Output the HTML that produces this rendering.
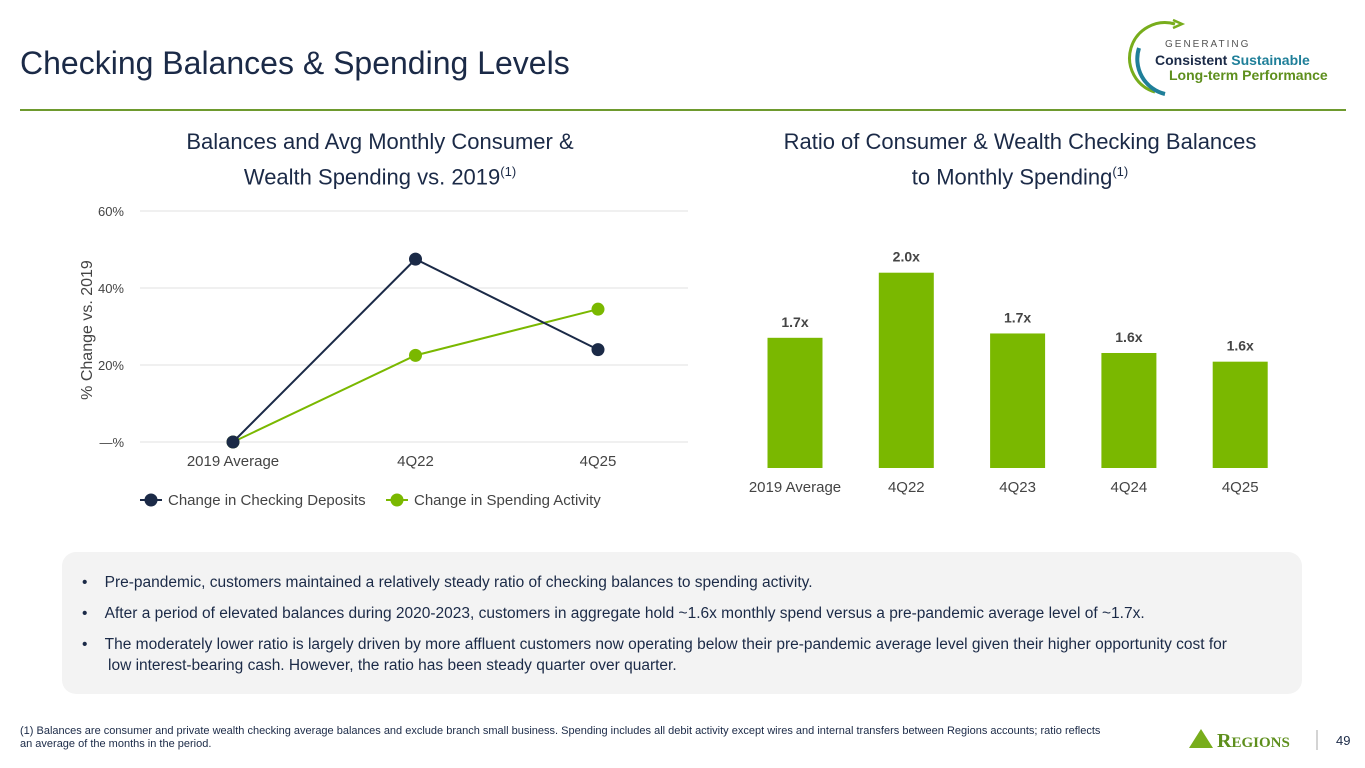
<!DOCTYPE html>
<html><head><meta charset="utf-8"><style>
body{margin:0;width:1365px;height:768px;background:#fff;font-family:"Liberation Sans",sans-serif;position:relative;overflow:hidden;color:#1b2a47}
.abs{position:absolute}
</style></head><body>
<div class="abs" style="left:20px;top:45px;font-size:32px;color:#1b2a47">Checking Balances &amp; Spending Levels</div>
<div class="abs" style="left:20px;top:109px;width:1326px;height:2px;background:#6e9a2e"></div>
<svg class="abs" style="left:1125px;top:18px" width="235" height="80">
<path d="M50 6 A34 34 0 0 0 30 74" fill="none" stroke="#78ad1c" stroke-width="3"/>
<path d="M14 30 A36 36 0 0 0 40 76" fill="none" stroke="#1f7f99" stroke-width="4"/>
<path d="M48 2 L57 6 L48 10" fill="none" stroke="#78ad1c" stroke-width="2.5"/>
<text x="40" y="29" font-size="10" fill="#555" letter-spacing="2">GENERATING</text>
<text x="30" y="47" font-size="14" font-weight="bold" fill="#1b2a47">Consistent <tspan fill="#1f7f99">Sustainable</tspan></text>
<text x="44" y="62" font-size="14" font-weight="bold" fill="#5e8f1d">Long-term Performance</text>
</svg>
<div class="abs" style="left:140px;top:127px;width:480px;text-align:center;font-size:22px;line-height:30px;color:#1b2a47">Balances and Avg Monthly Consumer &amp;<br>Wealth Spending vs. 2019<sup style="font-size:13px">(1)</sup></div>
<div class="abs" style="left:730px;top:127px;width:580px;text-align:center;font-size:22px;line-height:30px;color:#1b2a47">Ratio of Consumer &amp; Wealth Checking Balances<br>to Monthly Spending<sup style="font-size:13px">(1)</sup></div>
<svg class="abs" id="lc" style="left:0;top:190px" width="700" height="330"></svg>
<svg class="abs" id="bc" style="left:700px;top:230px" width="640" height="280"></svg>
<div class="abs" style="left:62px;top:552px;width:1240px;height:142px;background:#f3f3f3;border-radius:14px;font-size:15.5px;color:#1b2a47">
<div style="position:absolute;left:20px;top:20px;width:1200px;line-height:21px">
<div style="padding-left:26px;text-indent:-26px;margin-bottom:10px">•&nbsp;&nbsp;&nbsp;&nbsp;Pre-pandemic, customers maintained a relatively steady ratio of checking balances to spending activity.</div>
<div style="padding-left:26px;text-indent:-26px;margin-bottom:10px">•&nbsp;&nbsp;&nbsp;&nbsp;After a period of elevated balances during 2020-2023, customers in aggregate hold ~1.6x monthly spend versus a pre-pandemic average level of ~1.7x.</div>
<div style="padding-left:26px;text-indent:-26px">•&nbsp;&nbsp;&nbsp;&nbsp;The moderately lower ratio is largely driven by more affluent customers now operating below their pre-pandemic average level given their higher opportunity cost for<br>low interest-bearing cash. However, the ratio has been steady quarter over quarter.</div>
</div></div>
<div class="abs" style="left:20px;top:725px;width:1140px;font-size:11px;line-height:13px;color:#1b2a47">(1) Balances are consumer and private wealth checking average balances and exclude branch small business. Spending includes all debit activity except wires and internal transfers between Regions accounts; ratio reflects<br>an average of the months in the period.</div>
<svg class="abs" style="left:1185px;top:726px" width="180" height="28">
<polygon points="4,22 16,3 28,22" fill="#78ad1c"/>
<text x="32" y="21" font-family="Liberation Serif" font-size="20" font-weight="bold" fill="#5e8f1d">R<tspan font-size="15">EGIONS</tspan></text>
<line x1="132" y1="4" x2="132" y2="24" stroke="#aaa"/>
<text x="151" y="19" font-size="13" fill="#1b2a47">49</text>
</svg>
<script>
const lineCats=["2019 Average","4Q22","4Q25"];
const deposits=[0,47.5,24];
const spending=[0,22.5,34.5];
const yTicks=[0,20,40,60];
const yTickLabels=["—%","20%","40%","60%"];
const barCats=["2019 Average","4Q22","4Q23","4Q24","4Q25"];
const ratios=[1.70,2.00,1.72,1.63,1.59];
const ratioLabels=["1.7x","2.0x","1.7x","1.6x","1.6x"];
const NS="http://www.w3.org/2000/svg";
function mk(p,t,a){const e=document.createElementNS(NS,t);for(const k in a)e.setAttribute(k,a[k]);p.appendChild(e);return e;}
const lc=document.getElementById('lc');
const ly=v=>252-v*231/60, lx=i=>233+i*182.5;
yTicks.forEach((v,i)=>{const g=mk(lc,'line',{x1:140,x2:688,y1:ly(v),y2:ly(v),stroke:'#e2e2e2'});

const t=mk(lc,'text',{x:124,y:ly(v)+5,'text-anchor':'end','font-size':13,fill:'#444'});t.textContent=yTickLabels[i];
});
lineCats.forEach((c,i)=>{const t=mk(lc,'text',{x:lx(i),y:276,'text-anchor':'middle','font-size':15,fill:'#444'});t.textContent=c;
});
const yt=mk(lc,'text',{transform:'translate(92,140) rotate(-90)','text-anchor':'middle','font-size':16,fill:'#444'});yt.textContent='% Change vs. 2019';

[[spending,'#7ab800','spending-series'],[deposits,'#1b2a47','deposits-series']].forEach(([d,col,n])=>{
const pl=mk(lc,'polyline',{points:d.map((v,i)=>lx(i)+','+ly(v)).join(' '),fill:'none',stroke:col,'stroke-width':2});

d.forEach((v,i)=>{const c=mk(lc,'circle',{cx:lx(i),cy:ly(v),r:6.5,fill:col});});});
[[140,'#1b2a47','Change in Checking Deposits','legend-deposits'],[386,'#7ab800','Change in Spending Activity','legend-spending']].forEach(([x,col,lab,n])=>{
const g=mk(lc,'g',{});
mk(g,'line',{x1:x,x2:x+22,y1:310,y2:310,stroke:col,'stroke-width':2});mk(g,'circle',{cx:x+11,cy:310,r:6.5,fill:col});
const t=mk(g,'text',{x:x+28,y:315,'font-size':15,fill:'#444'});t.textContent=lab;});
const bc=document.getElementById('bc');
const by=v=>238-(v-1.1)*217, bx=i=>95+i*111.3;
barCats.forEach((c,i)=>{const r=mk(bc,'rect',{x:bx(i)-27.5,y:by(ratios[i]),width:55,height:238-by(ratios[i]),fill:'#7ab800'});

const t=mk(bc,'text',{x:bx(i),y:by(ratios[i])-11,'text-anchor':'middle','font-size':14,'font-weight':'bold',fill:'#444'});t.textContent=ratioLabels[i];

const x=mk(bc,'text',{x:bx(i),y:262,'text-anchor':'middle','font-size':15,fill:'#444'});x.textContent=c;
});
</script>
</body></html>
